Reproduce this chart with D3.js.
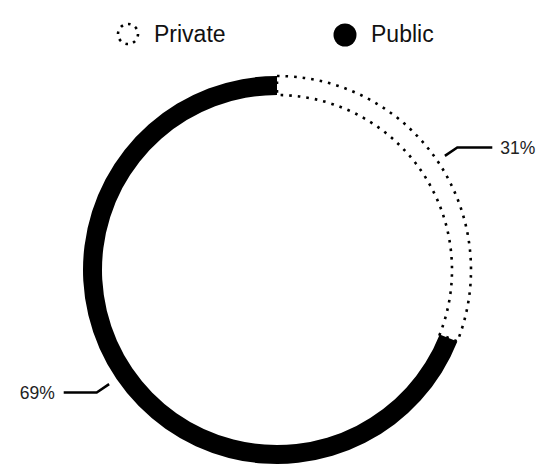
<!DOCTYPE html>
<html>
<head>
<meta charset="utf-8">
<script src="https://cdn.jsdelivr.net/npm/d3@7"></script>
<style>
  body { margin: 0; background: #fff; }
  svg { display: block; font-family: "Liberation Sans", Arial, Helvetica, sans-serif; }
</style>
</head>
<body>
<div id="chart"></div>
<script>
// data
var categories = ["Private", "Public"];
var shares = [31, 69];

var width = 557, height = 473;
var cx = 277, cy = 270;
var outerR = 194, innerR = 175;

var svg = d3.select("#chart")
	.append("svg")
	.attr("width", width)
	.attr("height", height);

var data = categories.map(function(c, i) { return { name: c, value: shares[i] }; });

var pie = d3.pie()
	.sort(null)
	.value(function(d) { return d.value; });

var arc = d3.arc()
	.innerRadius(innerR)
	.outerRadius(outerR);

var g = svg.append("g")
	.attr("transform", "translate(" + cx + "," + cy + ")");

var arcs = pie(data);

g.selectAll("path.slice")
	.data(arcs)
	.enter()
	.append("path")
	.attr("class", "slice")
	.attr("d", arc)
	.attr("fill", function(d) { return d.data.name == "Public" ? "#000" : "none"; })
	.attr("stroke", function(d) { return d.data.name == "Public" ? "none" : "#000"; })
	.attr("stroke-width", 2.6)
	.attr("stroke-dasharray", "2.6,6");

// leader lines + labels
var leaderStart = d3.arc().innerRadius(203).outerRadius(203);
var leaderElbow = d3.arc().innerRadius(218).outerRadius(218);

arcs.forEach(function(d) {
	var p0 = leaderStart.centroid(d);
	var p1 = leaderElbow.centroid(d);
	var right = p1[0] > 0;
	var p2 = [p1[0] + (right ? 35 : -33), p1[1]];

	g.append("path")
		.attr("d", d3.line()([p0, p1, p2]))
		.attr("fill", "none")
		.attr("stroke", "#000")
		.attr("stroke-width", 2.5);

	g.append("text")
		.attr("x", p2[0] + (right ? 8 : -9))
		.attr("y", p2[1])
		.attr("dy", "0.35em")
		.attr("text-anchor", right ? "start" : "end")
		.attr("fill", "#222")
		.style("font-size", "17.5px")
		.text(d.data.value + "%");
});

// legend
var legendX = [128, 345];
var legend = svg.append("g");

legend.append("circle")
	.attr("cx", legendX[0]).attr("cy", 34)
	.attr("r", 10)
	.attr("fill", "none")
	.attr("stroke", "#000")
	.attr("stroke-width", 2.6)
	.attr("stroke-dasharray", "2.6,5.2");

legend.append("circle")
	.attr("cx", legendX[1]).attr("cy", 35)
	.attr("r", 11.5)
	.attr("fill", "#000");

categories.forEach(function(c, i) {
	legend.append("text")
		.attr("x", legendX[i] + 26)
		.attr("y", 42)
		.attr("fill", "#111")
		.style("font-size", "23px")
		.text(c);
});
</script>
</body>
</html>
